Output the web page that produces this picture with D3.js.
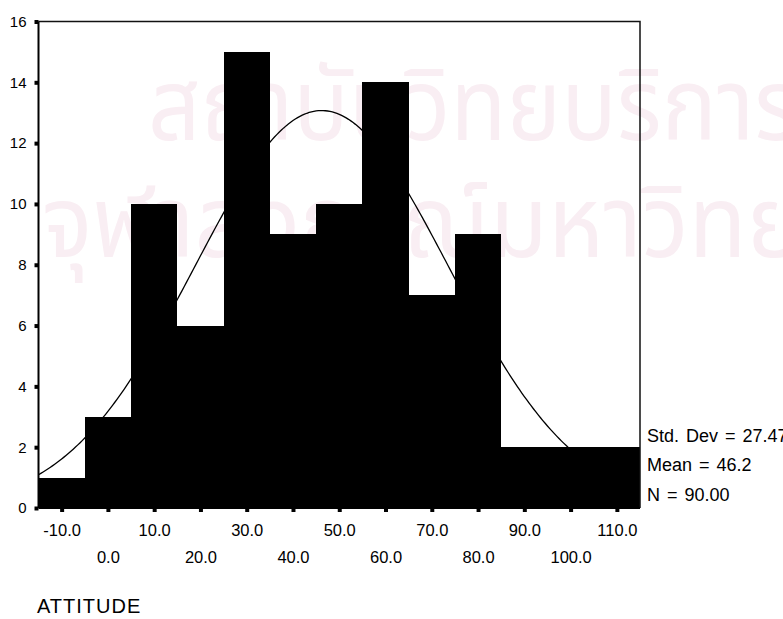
<!DOCTYPE html>
<html>
<head>
<meta charset="utf-8">
<script src="https://cdn.jsdelivr.net/npm/d3@7"></script>
<style>
  body { margin: 0; background: #fff; }
  svg { display: block; }
</style>
</head>
<body>
<svg width="783" height="619"></svg>
<script>
// Datos del histograma (centro de cada intervalo y frecuencia)
const binCenters = [-10, 0, 10, 20, 30, 40, 50, 60, 70, 80, 90, 100, 110];
const counts = [1, 3, 10, 6, 15, 9, 10, 14, 7, 9, 2, 2, 2];
const binWidth = 10;
const yTicks = [0, 2, 4, 6, 8, 10, 12, 14, 16];
const statLabels = ["Std. Dev = 27.47", "Mean = 46.2", "N = 90.00"];
const stats = { sd: 27.47, mean: 46.2, n: 90 };
const watermark = ["สถาบันวิทยบริการ", "จุฬาลงกรณ์มหาวิทยาลัย"];

const font = "'Liberation Sans', Arial, sans-serif";
const svg = d3.select("svg");

// Marca de agua
svg.append("g").selectAll("text")
    .data(watermark)
    .enter().append("text")
    .attr("transform", (d, i) => i == 0 ? "translate(148,140) scale(0.92,1)" : "translate(42,257) scale(0.95,1)")
    .attr("fill", "#f9eef3")
    .style("font-family", "'Noto Sans Thai', 'DejaVu Sans', sans-serif")
    .style("font-size", "100px")
    .text(d => d);

// Escalas
const x = d3.scaleLinear().domain([-15, 115]).range([38.5, 640]);
const y = d3.scaleLinear().domain([0, 16]).range([508, 21.5]);

// Curva normal ajustada
const curvePts = d3.range(-15, 115.01, 0.5).map(v => {
    const z = (v - stats.mean) / stats.sd;
    return [v, stats.n * binWidth / (stats.sd * Math.sqrt(2 * Math.PI)) * Math.exp(-z * z / 2)];
});
svg.append("path")
    .datum(curvePts)
    .attr("fill", "none")
    .attr("stroke", "#000")
    .attr("stroke-width", 1.3)
    .attr("d", d3.line().x(d => x(d[0])).y(d => y(d[1])));

// Barras
svg.append("g").selectAll("rect")
    .data(binCenters)
    .enter().append("rect")
    .attr("x", d => Math.round(x(d - binWidth / 2)))
    .attr("width", d => Math.round(x(d + binWidth / 2)) - Math.round(x(d - binWidth / 2)))
    .attr("y", (d, i) => Math.round(y(counts[i])))
    .attr("height", (d, i) => Math.round(y(0)) - Math.round(y(counts[i])))
    .attr("fill", "#000")
    .attr("shape-rendering", "crispEdges");

// Marco superior y derecho
svg.append("path")
    .attr("d", "M" + x(-15) + "," + y(16) + "H" + x(115) + "V" + y(0))
    .attr("fill", "none")
    .attr("stroke", "#111")
    .attr("stroke-width", 1.5);

// Eje Y
const yAxis = svg.append("g")
    .attr("transform", "translate(" + x(-15) + ",0)")
    .call(d3.axisLeft(y).tickValues(yTicks).tickSize(4).tickPadding(8).tickFormat(d3.format("d")));
yAxis.select(".domain").attr("stroke-width", 2).attr("d", "M0," + y(16) + "V" + y(0));
yAxis.selectAll(".tick line").attr("stroke-width", 4);
yAxis.selectAll("text").style("font-family", font).style("font-size", "15px").attr("fill", "#000");

// Eje X
const xAxis = svg.append("g")
    .attr("transform", "translate(0," + y(0) + ")")
    .call(d3.axisBottom(x).tickValues(binCenters).tickSize(4).tickPadding(6).tickFormat(d => d.toFixed(1)));
xAxis.select(".domain").attr("stroke-width", 2).attr("d", "M" + x(-15) + ",0H" + x(115));
xAxis.selectAll(".tick line").attr("stroke-width", 4);
xAxis.selectAll("text")
    .style("font-family", font).style("font-size", "16.5px").attr("fill", "#000")
    .attr("dy", null)
    .attr("y", (d, i) => i % 2 == 0 ? 24 : 51)
    .attr("dominant-baseline", "middle");

// Estadísticos
svg.append("g").selectAll("text")
    .data(statLabels)
    .enter().append("text")
    .attr("x", 647)
    .attr("y", (d, i) => 437 + i * 29.5)
    .attr("dominant-baseline", "middle")
    .style("font-family", font)
    .style("font-size", "18px")
    .style("word-spacing", "2px")
    .text(d => d);

// Título del eje
svg.append("text")
    .attr("x", 37)
    .attr("y", 608)
    .attr("dominant-baseline", "middle")
    .style("font-family", font)
    .style("font-size", "20px")
    .style("letter-spacing", "1px")
    .text("ATTITUDE");
</script>
</body>
</html>
